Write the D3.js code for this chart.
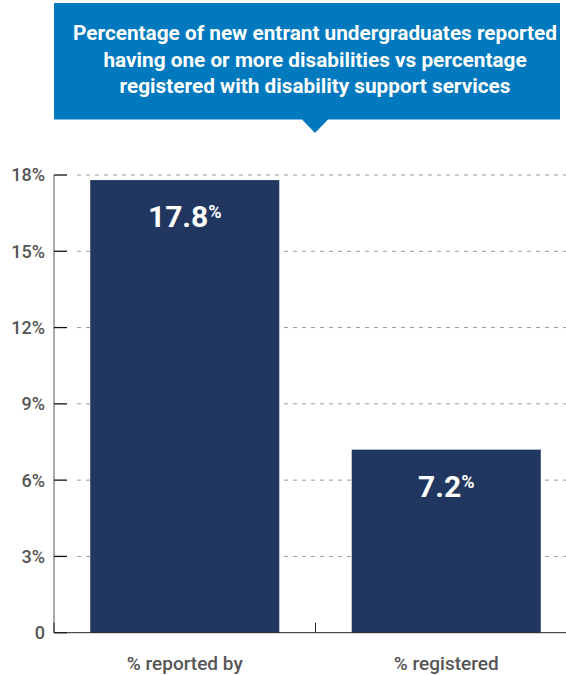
<!DOCTYPE html>
<html lang="en">
<head>
    <meta charset="UTF-8">
    <title>New entrant undergraduates with disabilities</title>
    <script src="https://d3js.org/d3.v7.min.js"></script>
    <style>
        body {
            margin: 0;
            background: #fff;
        }
        svg {
            display: block;
            font-family: Roboto, "Noto Sans", sans-serif;
        }
        .title text {
            fill: #fff;
            font-weight: bold;
            font-size: 21px;
        }
        .y-label, .x-label {
            fill: #555;
            font-weight: 500;
        }
        .grid line {
            stroke: #999;
            stroke-dasharray: 4,5;
        }
        .bar-label {
            fill: #fff;
            font-weight: bold;
        }
    </style>
</head>
<body>
    <div id="chart"></div>
    <script>
        const titleLines = [
            "Percentage of new entrant undergraduates reported",
            "having one or more disabilities vs percentage",
            "registered with disability support services"
        ];
        const categories = ["% reported by", "% registered"];
        const values = [17.8, 7.2];
        const yTicks = [0, 3, 6, 9, 12, 15, 18];
        const yTickLabels = ["0", "3%", "6%", "9%", "12%", "15%", "18%"];

        const width = 566;
        const height = 675;

        const svg = d3.select("#chart")
            .append("svg")
            .attr("width", width)
            .attr("height", height);

        // title box with pointer
        const title = svg.append("g").attr("class", "title");
        title.append("path")
            .attr("d", "M54,3 H560 V119.5 H328 L315,133 L302,119.5 H54 Z")
            .attr("fill", "#0079be");

        const titleText = title.selectAll("text")
            .data(titleLines)
            .enter()
            .append("text")
            .attr("x", 315)
            .attr("y", (d, i) => 40 + i * 26.7)
            .attr("text-anchor", "middle")
            .text(d => d);

        // squeeze lines so they match the condensed face of the original
        const firstWidth = titleText.node().getComputedTextLength();
        const squeeze = 484 / firstWidth;
        titleText.each(function() {
            const w = this.getComputedTextLength();
            d3.select(this)
                .attr("textLength", w * squeeze)
                .attr("lengthAdjust", "spacingAndGlyphs");
        });

        // scales
        const x = d3.scaleBand()
            .domain(categories)
            .range([54, 577])
            .paddingInner(0.277)
            .paddingOuter(0.1385);

        const y = d3.scaleLinear()
            .domain([0, 18])
            .range([632.7, 175]);

        // grid lines
        svg.append("g")
            .attr("class", "grid")
            .selectAll("line")
            .data(yTicks.filter(d => d > 0))
            .enter()
            .append("line")
            .attr("x1", 77)
            .attr("x2", width)
            .attr("y1", d => y(d))
            .attr("y2", d => y(d));

        // bars
        svg.selectAll(".bar")
            .data(values)
            .enter()
            .append("rect")
            .attr("class", "bar")
            .attr("x", (d, i) => x(categories[i]))
            .attr("y", d => y(d))
            .attr("width", x.bandwidth())
            .attr("height", d => y(0) - y(d))
            .attr("fill", "#21375f");

        // value labels
        const labels = svg.selectAll(".bar-label")
            .data(values)
            .enter()
            .append("text")
            .attr("class", "bar-label")
            .attr("x", (d, i) => x(categories[i]) + x.bandwidth() / 2)
            .attr("y", d => y(d) + 47)
            .attr("text-anchor", "middle");
        labels.append("tspan")
            .attr("font-size", 30)
            .text(d => d.toFixed(1));
        labels.append("tspan")
            .attr("font-size", 18)
            .attr("dy", -9)
            .text("%");

        // y axis
        const yAxis = svg.append("g");
        yAxis.append("line")
            .attr("x1", 54).attr("x2", 54)
            .attr("y1", y(18)).attr("y2", y(0))
            .attr("stroke", "#555");
        yAxis.selectAll(".tick")
            .data(yTicks)
            .enter()
            .append("line")
            .attr("x1", 54).attr("x2", 67)
            .attr("y1", d => y(d)).attr("y2", d => y(d))
            .attr("stroke", "#111")
            .attr("stroke-width", 1.3);
        yAxis.selectAll(".y-label")
            .data(yTicks)
            .enter()
            .append("text")
            .attr("class", "y-label")
            .attr("x", 45)
            .attr("y", d => y(d))
            .attr("dy", "0.36em")
            .attr("font-size", 18)
            .attr("text-anchor", "end")
            .text((d, i) => yTickLabels[i]);

        // x axis
        const xAxis = svg.append("g");
        xAxis.append("line")
            .attr("x1", 54).attr("x2", width)
            .attr("y1", y(0)).attr("y2", y(0))
            .attr("stroke", "#222");
        xAxis.selectAll(".sep")
            .data(d3.range(categories.length + 1))
            .enter()
            .append("line")
            .attr("x1", i => 54 + i * x.step())
            .attr("x2", i => 54 + i * x.step())
            .attr("y1", y(0)).attr("y2", y(0) - 10)
            .attr("stroke", "#222");
        xAxis.selectAll(".x-label")
            .data(categories)
            .enter()
            .append("text")
            .attr("class", "x-label")
            .attr("x", d => x(d) + x.bandwidth() / 2)
            .attr("y", 670)
            .attr("font-size", 19)
            .attr("text-anchor", "middle")
            .text(d => d);
    </script>
</body>
</html>
